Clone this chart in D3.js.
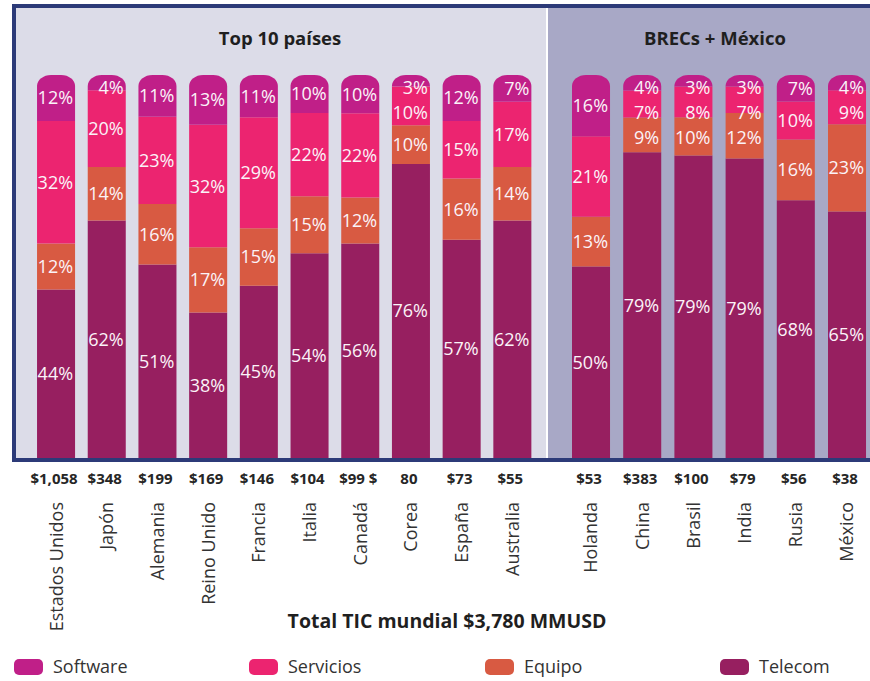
<!DOCTYPE html>
<html>
<head>
<meta charset="utf-8">
<script src="https://cdn.jsdelivr.net/npm/d3@7"></script>
<style>
  body { margin: 0; background: #ffffff; }
  svg { display: block; font-family: "Open Sans", "Noto Sans", sans-serif; }
</style>
</head>
<body>
<div id="chart"></div>
<script>
// paises y totales (MMUSD)
var countriesTop = ["Estados Unidos", "Japón", "Alemania", "Reino Unido", "Francia",
  "Italia", "Canadá", "Corea", "España", "Australia"];
var countriesBrecs = ["Holanda", "China", "Brasil", "India", "Rusia", "México"];
var totalsTop = ["$1,058", "$348", "$199", "$169", "$146", "$104", "$99 $", "80", "$73", "$55"];
var totalsBrecs = ["$53", "$383", "$100", "$79", "$56", "$38"];

// porcentajes por segmento, mismo orden que los paises (top 10 y luego BRECs)
var telecom   = [44, 62, 51, 38, 45, 54, 56, 76, 57, 62, 50, 79, 79, 79, 68, 65];
var equipo    = [12, 14, 16, 17, 15, 15, 12, 10, 16, 14, 13, 9, 10, 12, 16, 23];
var servicios = [32, 20, 23, 32, 29, 22, 22, 10, 15, 17, 21, 7, 8, 7, 10, 9];
var software  = [12, 4, 11, 13, 11, 10, 10, 3, 12, 7, 16, 4, 3, 3, 7, 4];

var keys = ["Telecom", "Equipo", "Servicios", "Software"];
var legendKeys = ["Software", "Servicios", "Equipo", "Telecom"];
var colors = {
  Software: "#c01f88",
  Servicios: "#ec2470",
  Equipo: "#d85a42",
  Telecom: "#971f60"
};

var width = 870, height = 681;

var svg = d3.select("#chart")
  .append("svg")
  .attr("width", width)
  .attr("height", height);

// fondo de los dos paneles
svg.append("rect").attr("x", 16).attr("y", 8).attr("width", 530).attr("height", 450).attr("fill", "#dcdce8");
svg.append("rect").attr("x", 548).attr("y", 8).attr("width", 322).attr("height", 450).attr("fill", "#a8a8c6");
svg.append("rect").attr("x", 546).attr("y", 8).attr("width", 2).attr("height", 450).attr("fill", "#ffffff");

// armar filas
var allCountries = countriesTop.concat(countriesBrecs);
var rows = allCountries.map(function(c, i) {
  return {
    country: c,
    Telecom: telecom[i],
    Equipo: equipo[i],
    Servicios: servicios[i],
    Software: software[i]
  };
});

var xTop = d3.scaleBand()
  .domain(countriesTop)
  .range([30.7, 537.7])
  .paddingInner(0.25)
  .paddingOuter(0.125);

var xBrecs = d3.scaleBand()
  .domain(countriesBrecs)
  .range([565.6, 872.8])
  .paddingInner(0.25)
  .paddingOuter(0.125);

function xOf(c) {
  return countriesTop.indexOf(c) >= 0 ? xTop(c) : xBrecs(c);
}
var bw = xTop.bandwidth();

var y = d3.scaleLinear().domain([0, 1]).range([458, 75]);

var series = d3.stack()
  .keys(keys)
  .offset(d3.stackOffsetExpand)(rows);

// segmento de arriba con tapa redondeada
function segPath(x0, y0, y1, w, rounded) {
  var p = d3.path();
  if (!rounded) {
    p.rect(x0, y1, w, y0 - y1);
    return p.toString();
  }
  var rx = 14, ry = 11;
  p.moveTo(x0, y0);
  p.lineTo(x0, y1 + ry);
  p.bezierCurveTo(x0, y1 + ry * 0.45, x0 + rx * 0.45, y1, x0 + rx, y1);
  p.lineTo(x0 + w - rx, y1);
  p.bezierCurveTo(x0 + w - rx * 0.45, y1, x0 + w, y1 + ry * 0.45, x0 + w, y1 + ry);
  p.lineTo(x0 + w, y0);
  p.closePath();
  return p.toString();
}

var layers = svg.append("g")
  .selectAll("g")
  .data(series)
  .enter()
  .append("g")
  .attr("fill", function(d) { return colors[d.key]; });

layers.selectAll("path")
  .data(function(d) { return d.map(function(v) { return { key: d.key, v: v }; }); })
  .enter()
  .append("path")
  .attr("d", function(d) {
    return segPath(xOf(d.v.data.country), y(d.v[0]), y(d.v[1]), bw, d.key === "Software");
  });

// posicion de etiquetas: centro del segmento, pero sin pisarse (de arriba hacia abajo)
var labelY = {};
allCountries.forEach(function(c, i) {
  var prev = 63;
  keys.slice().reverse().forEach(function(k) {
    var s = series[keys.indexOf(k)][i];
    var mid = (y(s[0]) + y(s[1])) / 2;
    var ly = Math.max(mid, prev + 25);
    labelY[c + "|" + k] = ly;
    prev = ly;
  });
});

// etiquetas de porcentaje
layers.selectAll("text")
  .data(function(d) { return d.map(function(v) { return { key: d.key, v: v }; }); })
  .enter()
  .append("text")
  .attr("x", function(d) { return xOf(d.v.data.country) + bw - 2; })
  .attr("y", function(d) { return labelY[d.v.data.country + "|" + d.key]; })
  .attr("dy", "0.36em")
  .attr("text-anchor", "end")
  .attr("fill", "#fbf3f8")
  .style("font-size", "18px")
  .text(function(d) { return d.v.data[d.key] + "%"; });

// marco
svg.append("rect").attr("x", 12).attr("y", 4).attr("width", 4).attr("height", 458).attr("fill", "#2c3a78");
svg.append("rect").attr("x", 12).attr("y", 4).attr("width", 858).attr("height", 4).attr("fill", "#2c3a78");
svg.append("rect").attr("x", 12).attr("y", 458).attr("width", 858).attr("height", 4).attr("fill", "#2c3a78");

// titulos de panel
svg.append("text")
  .attr("x", 280).attr("y", 45)
  .attr("text-anchor", "middle")
  .style("font-size", "18.5px").style("font-weight", "bold")
  .attr("fill", "#1f1f1f")
  .text("Top 10 países");

svg.append("text")
  .attr("x", 715).attr("y", 45)
  .attr("text-anchor", "middle")
  .style("font-size", "18.5px").style("font-weight", "bold")
  .attr("fill", "#1f1f1f")
  .text("BRECs + México");

// totales
var allTotals = totalsTop.concat(totalsBrecs);
svg.append("g")
  .selectAll("text")
  .data(allCountries)
  .enter()
  .append("text")
  .attr("x", function(c) { return xOf(c) + bw / 2 - 2; })
  .attr("y", 484)
  .attr("text-anchor", "middle")
  .style("font-size", "15px").style("font-weight", "bold")
  .attr("fill", "#262626")
  .text(function(c, i) { return allTotals[i]; });

// nombres de paises, verticales
svg.append("g")
  .selectAll("text")
  .data(allCountries)
  .enter()
  .append("text")
  .attr("transform", function(c) { return "translate(" + (xOf(c) + bw / 2) + ",502) rotate(-90)"; })
  .attr("dy", "0.36em")
  .attr("text-anchor", "end")
  .style("font-size", "18px")
  .attr("fill", "#333333")
  .text(function(c) { return c; });

svg.append("text")
  .attr("x", 447).attr("y", 628)
  .attr("text-anchor", "middle")
  .style("font-size", "19.5px").style("font-weight", "bold")
  .attr("fill", "#1f1f1f")
  .text("Total TIC mundial $3,780 MMUSD");

// leyenda
var legendX = [14, 249, 485, 720];
var legend = svg.append("g")
  .selectAll("g")
  .data(legendKeys)
  .enter()
  .append("g")
  .attr("transform", function(d, i) { return "translate(" + legendX[i] + ",659)"; });

legend.append("rect")
  .attr("width", 29).attr("height", 16)
  .attr("rx", 5)
  .attr("fill", function(d) { return colors[d]; });

legend.append("text")
  .attr("x", 39).attr("y", 14)
  .style("font-size", "18px")
  .attr("fill", "#333333")
  .text(function(d) { return d; });
</script>
</body>
</html>
